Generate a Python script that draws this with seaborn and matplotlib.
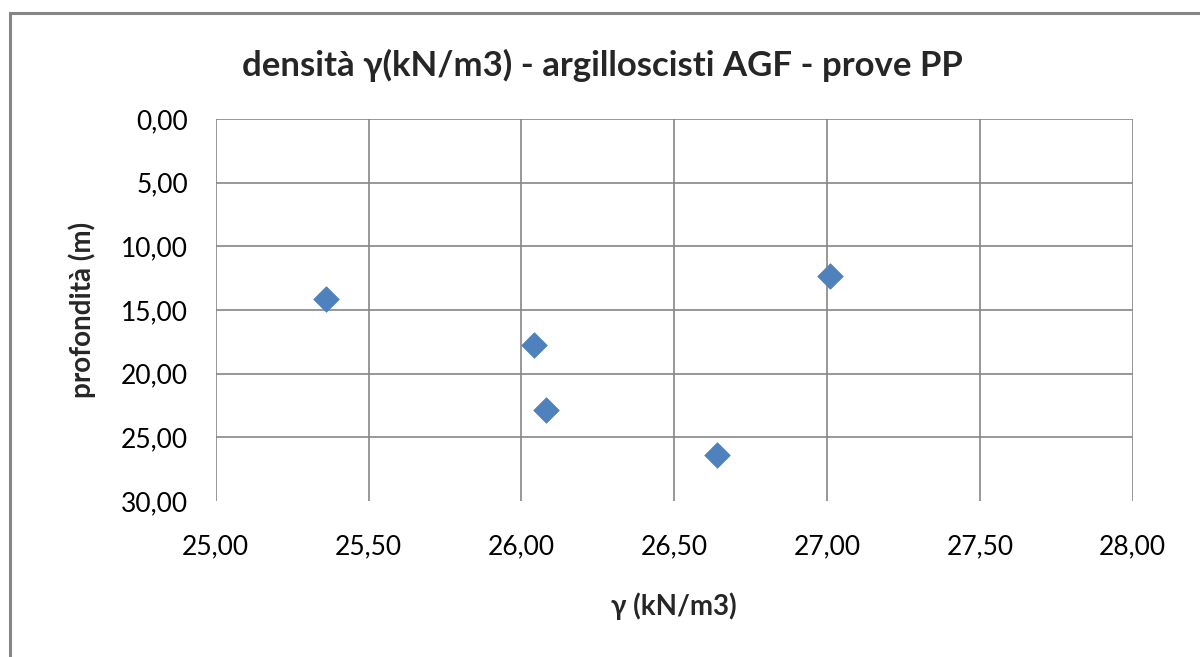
import matplotlib
matplotlib.use("Agg")
import matplotlib.pyplot as plt
import seaborn as sns
import pandas as pd
from matplotlib.ticker import FuncFormatter, MultipleLocator
from matplotlib.patches import Rectangle

gamma = [25.36, 26.04, 26.08, 26.64, 27.01]
depth = [14.14, 17.75, 22.86, 26.39, 12.33]

title = "densità γ(kN/m3) - argilloscisti AGF - prove PP"
xlabel = "γ (kN/m3)"
ylabel = "profondità (m)"

sns.set_theme(style="white")
plt.rcParams['font.family'] = ['Lato', 'DejaVu Sans']

df = pd.DataFrame({"gamma": gamma, "depth": depth})

fig = plt.figure(figsize=(12, 6.57), dpi=100)
ax = fig.add_axes([215.7/1200, 1-501/657, (1132.7-215.7)/1200, (501-119)/657])

sns.scatterplot(data=df, x="gamma", y="depth", ax=ax, marker="D", s=170,
                color="#4F81BD", edgecolor="#4F81BD", linewidth=0.5, zorder=3)

ax.set_xlim(25, 28)
ax.set_ylim(30, 0)
ax.xaxis.set_major_locator(MultipleLocator(0.5))
ax.yaxis.set_major_locator(MultipleLocator(5))
fmt = FuncFormatter(lambda v, p: f"{v:.2f}".replace(".", ","))
ax.xaxis.set_major_formatter(fmt)
ax.yaxis.set_major_formatter(fmt)
ax.tick_params(axis="both", labelsize=19, colors="#000000", length=0)
ax.tick_params(axis="y", pad=20)
ax.tick_params(axis="x", pad=24)

for s in ax.spines.values():
    s.set_visible(False)
ax.grid(True, color="#868686", linewidth=1.2)
ax.set_axisbelow(True)
fig.canvas.draw()
for gl, t in zip(ax.yaxis.get_gridlines(), ax.get_yticks()):
    if abs(t - 30) < 1e-6:
        gl.set_visible(False)

ax.set_xlabel(xlabel, fontsize=20, fontweight="bold", labelpad=24)
ax.set_ylabel(ylabel, fontsize=20, fontweight="bold", labelpad=18)
fig.text(602/1200, 1-65/657, title, ha="center", va="center", fontsize=25, fontweight="bold")

fig.patches.append(Rectangle((9.5/1200, -0.05), 1.1, 1.05 + (1 - 12.5/657) - 1, transform=fig.transFigure,
                             fill=False, edgecolor="#868686", linewidth=2.2))

fig.savefig("out.png", dpi=100)
